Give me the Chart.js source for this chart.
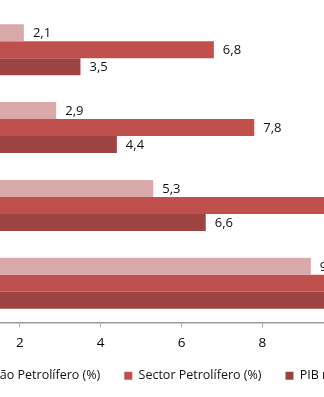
<!DOCTYPE html>
<html>
<head>
<meta charset="utf-8">
<script src="https://cdn.jsdelivr.net/npm/chart.js@4"></script>
<style>
  html, body { margin: 0; padding: 0; background: #fff; overflow: hidden; }
  #wrap { position: relative; width: 324px; height: 397px; overflow: hidden; }
  #chart { position: absolute; left: -150px; top: 0; }
</style>
</head>
<body>
<div id="wrap">
  <canvas id="chart" width="614" height="397"></canvas>
</div>
<script>
// data (values past the right edge are estimates)
const years = ["2011", "2012", "2013", "2014"];
const naoPetrolifero = [2.1, 2.9, 5.3, 9.2];
const petrolifero = [6.8, 7.8, 9.7, 11.5];
const pibReal = [3.5, 4.4, 6.6, 9.9];
const xTicks = [0, 2, 4, 6, 8, 10, 12];

const FONT = "'Open Sans', 'DejaVu Sans', sans-serif";

// value labels at the end of each bar
const barLabels = {
  id: "barLabels",
  afterDatasetsDraw(chart) {
    const ctx = chart.ctx;
    ctx.save();
    ctx.font = "13px " + FONT;
    ctx.fillStyle = "#111";
    ctx.textBaseline = "middle";
    chart.data.datasets.forEach((ds, i) => {
      chart.getDatasetMeta(i).data.forEach((bar, j) => {
        const txt = ds.data[j].toFixed(1).replace(".", ",");
        ctx.fillText(txt, bar.x + 9, bar.y + 1);
      });
    });
    ctx.restore();
  },
};

// move the legend closer to the axis and a bit to the right
const legendShift = {
  id: "legendShift",
  afterLayout(chart) {
    const lg = chart.legend;
    lg.top -= 14;
    lg.bottom -= 14;
    lg.left += 33;
    lg.right += 33;
  },
};

new Chart(document.getElementById("chart"), {
  type: "bar",
  data: {
    labels: years,
    datasets: [
      { label: "Sector Não Petrolífero (%)", data: naoPetrolifero, backgroundColor: "#d9a9a9" },
      { label: "Sector Petrolífero (%)", data: petrolifero, backgroundColor: "#c0504d" },
      { label: "PIB real (%)", data: pibReal, backgroundColor: "#9d4341" },
    ],
  },
  options: {
    indexAxis: "y",
    responsive: false,
    animation: false,
    datasets: { bar: { categoryPercentage: 0.655, barPercentage: 1.0 } },
    layout: { padding: { left: 29, right: 40, top: 9, bottom: -9 } },
    scales: {
      x: {
        min: 0,
        max: 12,
        afterBuildTicks: (s) => { s.ticks = xTicks.map((v) => ({ value: v })); },
        grid: { drawOnChartArea: false, drawTicks: true, tickLength: 5, color: "#aaa" },
        border: { color: "#999", width: 1.5 },
        ticks: { color: "#000", font: { family: FONT, size: 13.5 }, padding: 8 },
      },
      y: {
        afterFit: (s) => { s.width = 60; },
        grid: { display: false },
        border: { display: false },
        ticks: { color: "#111", font: { family: FONT, size: 13 } },
      },
    },
    plugins: {
      legend: {
        position: "bottom",
        align: "start",
        labels: {
          boxWidth: 8,
          boxHeight: 8,
          padding: 24,
          color: "#111",
          font: { family: FONT, size: 12.5 },
        },
      },
      tooltip: { enabled: false },
    },
  },
  plugins: [barLabels, legendShift],
});
</script>
</body>
</html>
